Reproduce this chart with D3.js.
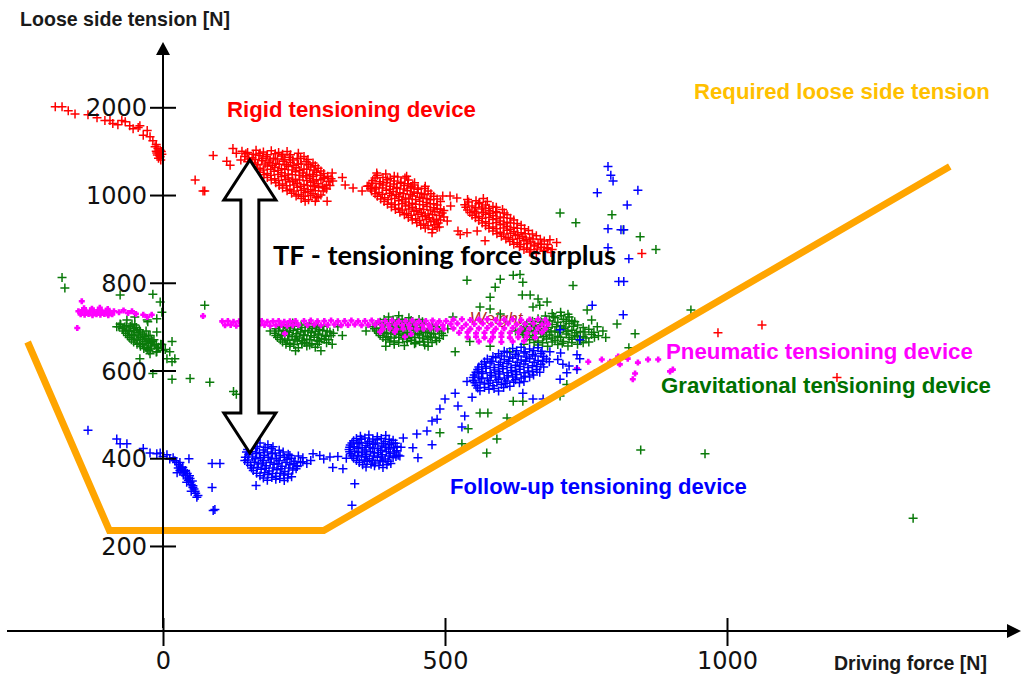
<!DOCTYPE html>
<html>
  <head>
    <meta charset="utf-8" />
    <title>Loose side tension vs driving force</title>
    <script src="https://d3js.org/d3.v7.min.js"></script>
    <style>
        body {margin: 0; background: #fff;}
        .lbl {font-family: "Liberation Sans", Arial, sans-serif; font-weight: bold;}
        .tick text {font-family: "DejaVu Sans", sans-serif; font-size: 24px; fill: #111;}
    </style>
  </head>
  <body>

    <svg id="chart" width="1021" height="675"></svg>

    <script>

        // ---- data (driving force [N], loose side tension [N]) ----
        var xTicks = [0, 500, 1000];
        var yTicks = [200, 400, 600, 800, 1000, 1200];
        var yTickLabels = ["200", "400", "600", "800", "1000", "2000"];

        var required = [[-240, 665], [-95, 235], [285, 235], [1395, 1065]];

        var rigid = [
            [-191,1201],[-179,1201],[-168,1192],[-156,1185],[-133,1183],[-117,1176],[-103,1170],[-94,1170],[-89,1163],[-80,1160],[-73,1170],[-67,1167],[-59,1158],[-53,1151],[-44,1154],[-41,1158],[-35,1136],[-28,1147],[-23,1133],[-18,1124],[-12,1115],
            [-14,1110],[-9,1106],[-5,1102],[-12,1100],[-7,1096],[-3,1099],[-10,1091],[-5,1087],[-2,1093],[-8,1084],[-4,1080],[-6,1090],[-11,1096],
            [57,1034],[71,1009],[74,1009],[89,1090],[113,1077],[119,1068],[124,1106],[130,1095],[138,1080],
            // cluster A
            [140,1100],[150,1097],[165,1102],[178,1098],[192,1101],[205,1097],[220,1099],
            [145,1088],[158,1085],[170,1090],[183,1087],[196,1084],[210,1089],[224,1086],[238,1083],[250,1088],
            [150,1076],[162,1073],[175,1078],[188,1075],[200,1072],[213,1077],[226,1074],[240,1071],[254,1076],[266,1073],
            [160,1064],[172,1061],[185,1066],[198,1063],[210,1060],[222,1065],[236,1062],[250,1059],[262,1064],[275,1061],
            [172,1052],[185,1049],[197,1054],[210,1051],[222,1048],[235,1053],[248,1050],[260,1047],[272,1052],[285,1049],
            [185,1040],[198,1037],[210,1042],[222,1039],[235,1036],[248,1041],[260,1038],[272,1035],[286,1040],[298,1037],
            [200,1028],[212,1025],[225,1030],[238,1027],[250,1024],[262,1029],[275,1026],[290,1023],
            [212,1016],[225,1013],[238,1018],[250,1015],[262,1012],[276,1017],[290,1014],
            [228,1004],[240,1001],[252,1006],[266,1003],[280,1000],
            [245,992],[258,989],[272,994],
            [147,1094],[160,1093],[172,1095],[185,1092],[199,1094],[212,1093],[226,1092],[240,1095],
            [152,1082],[164,1081],[177,1083],[190,1080],[203,1082],[216,1081],[230,1080],[244,1083],[257,1081],
            [156,1070],[168,1069],[181,1071],[194,1068],[206,1070],[219,1069],[232,1068],[245,1071],[258,1069],[270,1067],
            [166,1058],[178,1057],[191,1059],[204,1056],[216,1058],[229,1057],[242,1056],[255,1059],[268,1057],[280,1055],
            [179,1046],[191,1045],[204,1047],[216,1044],[229,1046],[242,1045],[254,1044],[266,1047],[279,1045],[292,1043],
            [192,1034],[205,1033],[217,1035],[230,1032],[242,1034],[255,1033],[267,1032],[280,1035],[294,1031],
            [206,1022],[219,1021],[232,1023],[244,1020],[256,1022],[269,1021],[283,1020],[296,1022],
            [220,1010],[232,1009],[245,1011],[257,1008],[270,1010],[284,1009],
            [236,998],[249,997],[262,999],[275,996],
            [301,1032],[323,1023],[291,986],[270,986],[252,986],[266,1043],[284,1038],[266,1020],[287,1016],[318,1040],[300,1050],
            // cluster B
            [380,1045],[395,1048],[410,1043],
            [372,1033],[385,1030],[398,1035],[410,1032],[422,1029],[435,1034],
            [365,1021],[378,1018],[390,1023],[403,1020],[415,1017],[428,1022],[440,1019],[452,1016],
            [370,1009],[383,1006],[396,1011],[408,1008],[420,1005],[433,1010],[445,1007],[458,1004],[470,1009],
            [380,997],[393,994],[405,999],[418,996],[430,993],[442,998],[455,995],[468,992],[480,997],
            [392,985],[405,982],[418,987],[430,984],[442,981],[455,986],[467,983],[480,980],[492,985],
            [405,973],[418,970],[430,975],[442,972],[455,969],[468,974],[480,971],[492,968],
            [420,961],[432,958],[445,963],[458,960],[470,957],[482,962],[495,959],
            [435,949],[448,946],[460,951],[472,948],[485,945],[498,950],
            [450,937],[462,934],[475,939],[488,936],
            [465,925],[478,922],[490,927],
            [376,1039],[390,1040],[403,1038],[416,1041],[429,1039],
            [370,1027],[384,1026],[396,1028],[409,1025],[421,1027],[434,1026],[446,1028],
            [368,1015],[376,1014],[389,1016],[402,1013],[414,1015],[427,1014],[439,1016],[452,1013],[464,1015],
            [376,1003],[389,1002],[402,1004],[414,1001],[426,1003],[439,1002],[451,1004],[464,1001],[475,1003],
            [386,991],[399,990],[411,992],[424,989],[436,991],[448,990],[461,992],[474,989],[486,991],
            [398,979],[411,978],[424,980],[436,977],[448,979],[461,978],[474,980],[486,977],
            [412,967],[424,966],[436,968],[449,965],[462,967],[474,966],[486,968],[498,965],
            [428,955],[440,954],[452,956],[465,953],[478,955],[490,954],
            [442,943],[455,942],[467,944],[480,941],[492,943],
            [457,931],[470,930],[482,932],
            [337,1016],[353,1009],[362,1020],[379,1050],[432,1043],[443,1023],[465,1020],[496,998],[509,998],[504,941],[477,914],[486,926],
            // cluster C
            [540,990],[555,987],[568,992],
            [535,978],[548,975],[560,980],[572,977],[585,974],
            [540,966],[552,963],[565,968],[578,965],[590,962],[602,967],
            [548,954],[560,951],[572,956],[585,953],[598,950],[610,955],
            [560,942],[572,939],[585,944],[598,941],[610,938],[622,943],
            [572,930],[585,927],[598,932],[610,929],[622,926],[635,931],
            [585,918],[598,915],[610,920],[622,917],[635,914],[648,919],
            [600,906],[612,903],[625,908],[638,905],[650,902],[662,907],
            [615,894],[628,891],[640,896],[652,893],[665,890],[676,895],
            [632,882],[645,879],[658,884],[670,881],[682,878],
            [650,870],[662,867],[675,872],[688,869],
            [542,984],[561,983],[575,985],
            [537,972],[554,971],[566,973],[578,970],[591,972],
            [544,960],[556,959],[568,961],[580,958],[592,960],[605,959],
            [554,948],[566,947],[578,949],[591,946],[604,948],[616,947],
            [566,936],[578,935],[591,937],[604,934],[616,936],[628,935],
            [578,924],[591,923],[604,925],[616,922],[628,924],[641,923],
            [592,912],[604,911],[616,913],[629,910],[642,912],[655,911],
            [608,900],[620,899],[632,901],[644,898],[656,900],[669,899],
            [622,888],[634,887],[646,889],[659,886],[671,888],[682,887],
            [640,876],[652,875],[664,877],[676,874],[690,876],
            [539,914],[527,910],[571,896],[557,918],[523,918],[686,898],[681,880],[698,892],[521,993],[510,975],
            [849,867],[984,686],[1062,704],[1195,584]
        ];

        var gravitational = [
            [-179,812],[-174,788],[-76,772],[-18,774],[-5,756],[-2,733],[-11,718],[-27,711],[16,580],[48,582],[83,573],[74,749],[125,552],[130,546],[-18,593],
            [-76,706],[-82,700],[-64,715],[-50,722],[-50,704],[-28,715],[-11,688],[-18,666],[-2,659],[16,666],[12,643],[21,627],[16,620],[7,627],[-11,643],[-23,638],[-41,627],[-28,648],
            [-75,705],[-65,702],[-55,706],
            [-72,695],[-62,692],[-52,696],[-42,693],
            [-66,685],[-56,682],[-46,686],[-36,683],[-26,680],
            [-60,675],[-50,672],[-40,676],[-30,673],[-20,670],
            [-52,665],[-42,662],[-32,666],[-22,663],[-12,660],
            [-40,655],[-30,652],[-20,656],[-8,653],
            [-25,645],[-12,642],[0,646],
            [-78,700],[-68,699],[-58,701],[-47,698],
            [-70,690],[-60,689],[-50,691],[-40,688],[-30,690],
            [-63,680],[-53,679],[-43,681],[-33,678],[-23,680],
            [-56,670],[-46,669],[-36,671],[-26,668],[-16,670],
            [-46,660],[-36,659],[-26,661],[-15,658],[-4,660],
            [-34,650],[-22,649],[-10,651],[4,648],
            // cluster G2
            [215,705],[230,708],[245,704],[260,707],[275,703],
            [200,695],[213,692],[226,697],[239,694],[252,691],[265,696],[278,693],[291,690],
            [198,685],[211,682],[224,687],[237,684],[250,681],[263,686],[276,683],[289,680],[302,685],
            [203,675],[216,672],[229,677],[242,674],[255,671],[268,676],[281,673],[294,670],
            [212,665],[225,662],[238,667],[251,664],[264,661],[277,666],[290,663],
            [225,655],[240,652],[255,656],[270,653],
            [207,700],[220,699],[233,701],[246,698],[259,700],[272,699],[285,701],
            [205,690],[218,689],[231,691],[244,688],[257,690],[270,689],[283,691],[296,688],
            [200,680],[210,679],[223,681],[236,678],[249,680],[262,679],[275,681],[288,678],[298,680],
            [208,670],[221,669],[234,671],[247,668],[260,670],[273,669],[286,671],
            [218,660],[232,659],[246,661],[260,658],[274,660],
            [310,700],[190,690],[318,680],[300,660],[235,645],[280,645],
            // cluster G3
            [400,722],[418,725],[436,720],
            [385,710],[400,707],[415,712],[430,709],[445,706],[460,711],
            [372,700],[386,697],[400,702],[414,699],[428,696],[442,701],[456,698],[470,695],[484,700],
            [378,690],[392,687],[406,692],[420,689],[434,686],[448,691],[462,688],[476,685],[490,690],
            [385,680],[399,677],[413,682],[427,679],[441,676],[455,681],[469,678],[483,675],[497,680],
            [395,670],[410,667],[425,672],[440,669],[455,666],[470,671],[485,668],
            [410,660],[428,657],[446,661],[464,658],
            [392,716],[408,715],[424,717],[440,714],[454,716],
            [378,705],[393,704],[407,706],[421,703],[435,705],[449,704],[463,706],[477,703],
            [375,695],[389,694],[403,696],[417,693],[431,695],[445,694],[459,696],[473,693],[487,695],
            [382,685],[396,684],[410,686],[424,683],[438,685],[452,684],[466,686],[480,683],[494,685],
            [390,675],[404,674],[418,676],[432,673],[446,675],[460,674],[474,676],[490,673],
            [402,665],[418,664],[433,666],[448,663],[462,665],[477,664],
            [360,690],[505,695],[470,655],[395,655],
            [518,643],[514,722],[544,666],[580,655],[598,729],[562,745],[615,643],
            // cluster G4
            [690,730],[705,733],[718,728],
            [665,718],[680,715],[695,720],[710,717],[725,714],
            [645,706],[660,703],[675,708],[690,705],[705,702],[720,707],[735,704],
            [635,694],[650,691],[665,696],[680,693],[695,690],[710,695],[725,692],[740,689],[755,694],
            [640,682],[655,679],[670,684],[685,681],[700,678],[715,683],[730,680],[745,677],[760,682],[772,679],
            [650,670],[665,667],[680,672],[695,669],[710,666],[725,671],[740,668],[755,665],
            [665,658],[682,655],[700,659],[718,656],[735,660],
            [678,724],[692,723],[706,725],[720,722],
            [655,712],[670,711],[685,713],[700,710],[715,712],[730,711],
            [640,700],[653,699],[668,701],[683,698],[698,700],[713,699],[728,701],[745,698],
            [637,688],[643,687],[658,689],[673,686],[688,688],[703,687],[718,689],[733,686],[748,688],[764,687],
            [645,676],[660,675],[675,677],[690,674],[705,676],[720,675],[735,677],[750,674],[765,676],
            [658,664],[673,663],[690,665],[708,662],[725,664],[745,663],
            [780,690],[770,700],[785,675],[760,715],[640,660],[625,690],
            [539,806],[589,790],[598,808],[580,767],[580,740],[621,817],[633,819],[638,801],[637,772],[651,772],[665,763],[668,749],[681,756],[656,745],[727,794],
            [704,959],[732,937],[796,955],[816,921],[846,905],[874,876],[752,738],[805,706],[837,684],[826,652],[936,738],[847,419],[961,410],[1330,263],
            [574,412],[610,492],[530,433],[592,444],[541,467],[562,503],[576,503],[621,530],[638,530],[704,542],[716,568],[491,458]
        ];

        var pneumatic = [
            [-150,735],[-143,737],[-136,734],[-129,736],[-122,733],[-115,737],[-108,734],[-101,736],[-94,733],[-87,735],
            [-146,728],[-139,727],[-132,729],[-125,726],[-118,728],[-111,727],[-104,729],[-97,726],[-90,728],
            [-140,742],[-126,741],[-112,743],[-98,740],
            [-78,733],[-70,737],[-62,731],[-55,735],[-48,729],[-35,727],[-20,727],[-28,722],[-152,697],[-144,758],[71,724],
            [105,712],[115,713],[125,711],[135,712],[145,713],[155,711],[165,712],[175,713],[185,711],[195,712],[205,713],[215,711],[225,712],[235,713],
            [110,703],[120,704],[130,702],[140,703],[150,704],[160,702],[170,703],[180,704],[190,702],[200,703],[210,704],[220,702],[230,703],[240,704],
            [250,713],[262,714],[274,712],[286,713],[298,714],[310,712],[322,713],[334,714],[346,712],[358,713],[370,714],[382,712],[394,713],[406,714],[418,712],[430,713],[442,714],[454,712],[466,713],[478,714],[490,712],[502,713],
            [256,704],[268,705],[280,703],[292,704],[304,705],[316,703],[328,704],[340,705],[352,703],[364,704],[376,705],[388,703],[400,704],[412,705],[424,703],[436,704],[448,705],[460,703],[472,704],[484,705],[496,703],
            [390,695],[402,696],[414,694],[426,695],[438,696],[450,694],[462,695],[474,696],[486,694],[498,695],
            [515,716],[530,717],[545,715],[560,716],[575,717],[590,715],[605,716],[620,717],[635,715],[650,716],[665,717],[678,715],
            [510,706],[522,707],[537,705],[552,706],[567,707],[582,705],[597,706],[612,707],[627,705],[642,706],[657,707],[672,705],[683,706],
            [515,696],[530,697],[545,695],[560,696],[575,697],[590,695],[605,696],[620,697],[635,695],[650,696],[665,697],[678,695],
            [525,686],[540,687],[555,685],[570,686],[585,687],[600,685],[615,686],[630,687],[645,685],[660,686],[672,687],
            [540,676],[555,677],[570,675],[585,676],[600,677],[615,675],[630,676],[645,677],[660,675],
            [560,666],[580,667],[600,665],[620,666],[640,667],
            [450,695],[473,700],[411,688],[429,677],[385,688],[440,683],[216,684],
            [778,625],[793,620],[807,632],[824,627],[842,618],[860,625],[878,625],[766,596],[734,605],[833,580],[837,593],[899,598],[904,602],[810,614],[754,620]
        ];

        var followUp = [
            [-133,464],[-82,444],[-64,433],[-76,433],[-35,422],[-23,412],[-11,410],[7,408],[18,401],[30,390],[35,379],[25,367],[43,365],[48,354],[53,333],[60,311],[46,399],
            [21,394],[28,385],[33,375],[38,370],[40,360],[45,350],[50,340],[55,330],[58,320],[62,315],[30,372],[36,362],[42,345],[50,325],[0,404],[12,398],[-5,412],
            [24,390],[31,380],[36,367],[44,355],[48,345],[53,337],[57,325],[40,372],[47,360],[52,348],[27,378],
            [87,388],[101,388],[87,333],[89,281],[92,283],
            // cluster B2
            [158,432],[172,435],[186,431],
            [150,420],[164,423],[178,419],[192,422],[206,418],
            [152,408],[166,411],[180,407],[194,410],[208,406],[222,409],
            [150,396],[164,399],[178,395],[192,398],[206,394],[220,397],[234,393],
            [155,384],[169,387],[183,383],[197,386],[211,382],[225,385],[238,381],
            [160,372],[174,375],[188,371],[202,374],[216,370],[230,373],
            [172,360],[186,363],[200,359],[214,362],[228,358],
            [185,350],[200,352],[215,349],
            [155,426],[167,427],[181,425],[195,426],
            [148,414],[158,415],[171,413],[185,414],[199,412],[213,414],
            [146,402],[159,403],[173,401],[187,402],[201,400],[215,402],[228,400],
            [150,390],[162,391],[176,389],[190,390],[204,388],[218,390],[232,388],[244,390],
            [157,378],[167,379],[181,377],[195,378],[209,376],[223,378],[236,376],
            [166,366],[180,367],[194,365],[208,366],[222,364],
            [178,355],[193,356],[207,354],[221,355],
            [165,338],[145,395],[240,405],[248,392],
            [248,401],[266,410],[278,406],[296,403],[301,379],[255,388],[319,376],[225,406],[238,383],[285,398],[310,404],[262,395],
            // cluster B3
            [350,450],[365,453],[380,449],[395,452],
            [338,440],[352,443],[366,439],[380,442],[394,438],[408,441],
            [332,430],[346,433],[360,429],[374,432],[388,428],[402,431],[415,427],
            [330,420],[344,423],[358,419],[372,422],[386,418],[400,421],[414,417],
            [333,410],[347,413],[361,409],[375,412],[389,408],[403,411],[417,407],
            [338,400],[352,403],[366,399],[380,402],[394,398],[408,401],
            [348,390],[362,393],[376,389],[390,392],[404,388],
            [360,380],[375,383],[390,379],
            [343,445],[358,446],[372,444],[387,445],[401,443],
            [335,435],[349,436],[363,434],[377,435],[391,433],[405,435],[412,434],
            [331,425],[339,426],[353,424],[367,425],[381,423],[395,425],[409,424],
            [331,415],[340,416],[354,414],[368,415],[382,413],[396,415],[410,414],
            [335,405],[345,406],[359,404],[373,405],[387,403],[401,405],[413,404],
            [343,395],[357,396],[371,394],[385,395],[399,393],
            [354,385],[369,386],[383,384],[397,385],
            [340,342],[335,293],[325,400],[422,425],[420,405],
            [426,446],[443,424],[452,401],[450,455],[468,462],[477,485],[486,489],[477,431],[491,512],[500,535],[518,548],[523,519],[535,496],[530,471],[548,539],[539,575],
            // cluster B5
            [620,650],[635,653],[650,649],[665,652],
            [595,638],[610,641],[625,637],[640,640],[655,636],[670,639],
            [575,626],[590,629],[605,625],[620,628],[635,624],[650,627],[665,623],[680,626],
            [565,614],[580,617],[595,613],[610,616],[625,612],[640,615],[655,611],[670,614],
            [558,602],[573,605],[588,601],[603,604],[618,600],[633,603],[648,599],[663,602],
            [552,590],[567,593],[582,589],[597,592],[612,588],[627,591],[642,587],[657,590],
            [550,578],[565,581],[580,577],[595,580],[610,576],[625,579],[640,575],
            [555,566],[570,569],[585,565],[600,568],[615,564],
            [562,554],[578,557],[595,553],
            [605,644],[627,645],[642,643],[657,645],[672,644],
            [585,632],[600,633],[615,631],[630,633],[645,631],[660,633],[675,632],
            [570,620],[583,621],[598,619],[613,621],[628,619],[643,621],[658,619],[673,621],[685,620],
            [560,608],[572,609],[587,607],[602,609],[617,607],[632,609],[647,607],[662,609],[675,608],
            [555,596],[565,597],[580,595],[595,597],[610,595],[625,597],[640,595],[655,597],[668,596],
            [550,584],[560,585],[575,583],[590,585],[605,583],[620,585],[635,583],[650,585],
            [553,572],[562,573],[577,571],[592,573],[607,571],[622,573],[632,572],
            [558,560],[570,561],[587,559],[604,561],
            [686,643],[700,625],[720,610],[739,627],[716,595],[705,640],[656,535],[674,535],[734,602],[734,636],[709,614],[704,580],[638,548],
            [789,1065],[794,1045],[798,1032],[770,1005],[842,1011],[823,977],[789,923],[812,921],[817,921],[789,880],[826,855],[808,803],[817,803],[761,749],[816,727],[704,693],[739,670]
        ];

        // ---- scales ----
        var svg = d3.select("#chart");
        var x = d3.scaleLinear().domain([0, 1000]).range([163, 727]);
        var y = d3.scaleLinear().domain([0, 1200]).range([633.7, 107.3]);
        var axisY = 631;

        function drawCrosses(data, color, size, width) {
            var h = size / 2;
            svg.append("g")
               .selectAll("path")
               .data(data)
               .enter().append("path")
               .attr("d", function(d) {
                   var cx = x(d[0]), cy = y(d[1]);
                   return "M" + (cx - h) + "," + cy + "h" + size + "M" + cx + "," + (cy - h) + "v" + size;
               })
               .attr("stroke", color)
               .attr("stroke-width", width)
               .attr("fill", "none");
        }

        // hidden annotation under the pink band
        svg.append("text")
           .attr("x", x(544)).attr("y", y(706))
           .attr("font-family", "Liberation Sans, Arial, sans-serif")
           .attr("font-style", "italic")
           .attr("font-size", 17)
           .attr("fill", "#b02a2a")
           .text("Weight");

        drawCrosses(rigid, "#ff0000", 9, 1.5);
        drawCrosses(gravitational, "#0a7a0a", 9, 1.5);
        drawCrosses(pneumatic, "#ff00ff", 6, 2.6);
        drawCrosses(followUp, "#0000ff", 9, 1.5);

        // required loose side tension
        svg.append("path")
           .datum(required)
           .attr("d", d3.line().x(function(d){ return x(d[0]); }).y(function(d){ return y(d[1]); }))
           .attr("fill", "none")
           .attr("stroke", "#ffa500")
           .attr("stroke-width", 7);

        // axes
        var gx = svg.append("g").attr("transform", "translate(0," + axisY + ")")
                    .call(d3.axisBottom(x).tickValues(xTicks).tickFormat(d3.format("d")));
        gx.select(".domain").remove();
        gx.selectAll(".tick line").attr("y1", -13).attr("y2", 15).attr("stroke", "#000").attr("stroke-width", 2);
        gx.selectAll(".tick text").attr("y", 38).attr("dy", 0).attr("fill", "#111");

        var gy = svg.append("g").attr("transform", "translate(" + x(0) + ",0)")
                    .call(d3.axisLeft(y).tickValues(yTicks).tickFormat(function(d, i){ return yTickLabels[i]; }));
        gy.select(".domain").remove();
        gy.selectAll(".tick line").attr("x1", -13).attr("x2", 13).attr("stroke", "#000").attr("stroke-width", 2);
        gy.selectAll(".tick text").attr("x", -16).attr("dy", "0.36em").attr("fill", "#111");

        svg.append("line").attr("x1", 7).attr("x2", 1009).attr("y1", axisY).attr("y2", axisY)
           .attr("stroke", "#000").attr("stroke-width", 2);
        svg.append("path").attr("d", "M1021," + axisY + "L1007," + (axisY - 7) + "L1007," + (axisY + 7) + "Z").attr("fill", "#000");
        svg.append("line").attr("x1", x(0)).attr("x2", x(0)).attr("y1", 628).attr("y2", 52)
           .attr("stroke", "#000").attr("stroke-width", 2);
        svg.append("path").attr("d", "M" + x(0) + ",42L" + (x(0) - 7) + ",55L" + (x(0) + 7) + ",55Z").attr("fill", "#000");

        // tensioning force surplus double arrow
        var ax = x(154), aTop = y(1080), aBot = y(412), head = 40, hw = 26, sw = 9;
        var arrowPts = [
            [ax, aTop], [ax + hw, aTop + head], [ax + sw, aTop + head], [ax + sw, aBot - head],
            [ax + hw, aBot - head], [ax, aBot], [ax - hw, aBot - head], [ax - sw, aBot - head],
            [ax - sw, aTop + head], [ax - hw, aTop + head]
        ];
        svg.append("path")
           .attr("d", d3.line()(arrowPts) + "Z")
           .attr("fill", "#fff")
           .attr("stroke", "#000")
           .attr("stroke-width", 3)
           .attr("stroke-linejoin", "miter");

        // texts
        function label(txt, px, py, color, width, family) {
            var t = svg.append("text")
                       .attr("class", "lbl")
                       .attr("x", px).attr("y", py)
                       .attr("font-size", 22)
                       .attr("fill", color)
                       .text(txt);
            if (family) t.style("font-family", family);
            var w = t.node().getComputedTextLength();
            t.attr("font-size", 22 * width / w);
            return t;
        }

        label("Loose side tension [N]", 20, 26, "#1a1a1a", 210);
        label("Driving force [N]", 834, 670, "#1a1a1a", 153);
        label("Rigid tensioning device", 227, 117, "#ff0000", 249);
        label("Required loose side tension", 694, 99, "#ffc000", 296);
        label("Pneumatic tensioning device", 666, 359, "#ff00ff", 307);
        label("Gravitational tensioning device", 661, 393, "#007000", 330);
        label("Follow-up tensioning device", 450, 494, "#0000ff", 297);
        label("TF - tensioning force surplus", 273, 265, "#000", 343, "Lato, 'Open Sans', sans-serif");

    </script>

  </body>
</html>
